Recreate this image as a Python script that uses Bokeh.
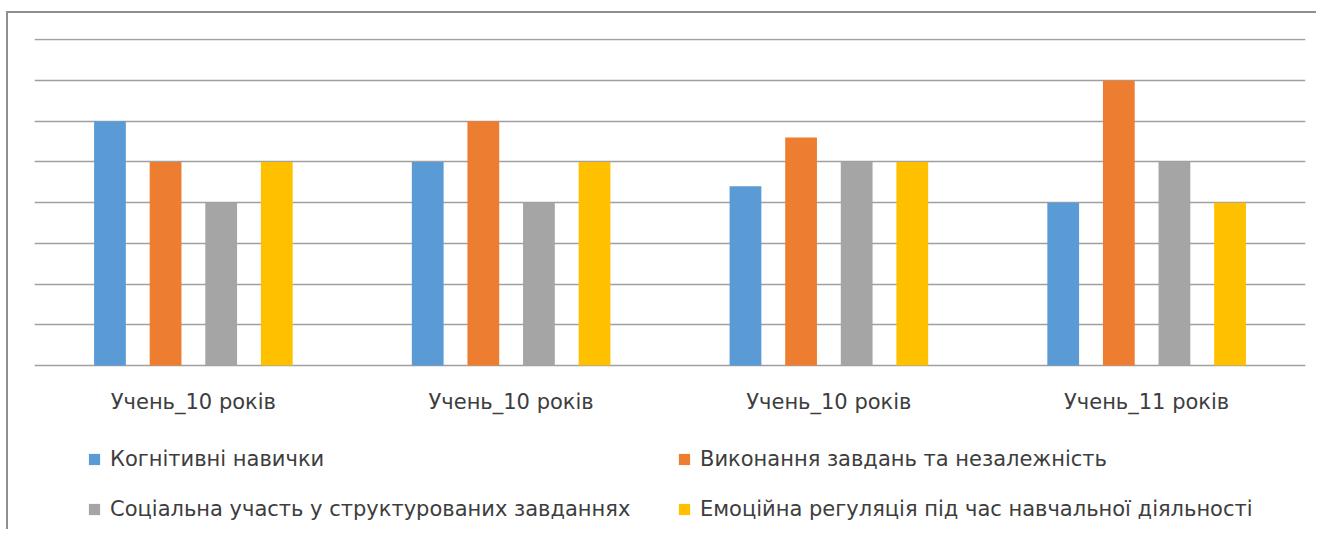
from bokeh.plotting import figure
from bokeh.models import (ColumnDataSource, Range1d, FixedTicker, Legend, LegendItem)
from bokeh.transform import dodge
from bokeh.embed import file_html
from bokeh.resources import INLINE

# ---- data ----
students = ["Учень_10 років", "Учень_10 років", "Учень_10 років", "Учень_11 років"]
series_names = [
    "Когнітивні навички",
    "Виконання завдань та незалежність",
    "Соціальна участь у структурованих завданнях",
    "Емоційна регуляція під час навчальної діяльності",
]
cognitive = [6, 5, 4.4, 4]
task_independence = [5, 6, 5.6, 7]
social = [4, 4, 5, 5]
emotional = [5, 5, 5, 4]
y_ticks = [0, 1, 2, 3, 4, 5, 6, 7, 8]

colors = ["#5B9BD5", "#ED7D31", "#A5A5A5", "#FFC000"]
offsets = [-0.2625, -0.0875, 0.0875, 0.2625]
FONT = "DejaVu Sans"
FSIZE = "21px"
TXT = "#3d3d3d"

xpos = [i + 0.5 for i in range(len(students))]
source = ColumnDataSource(dict(x=xpos, s0=cognitive, s1=task_independence, s2=social, s3=emotional))

p = figure(width=1310, height=518, output_backend="svg", toolbar_location=None,
           x_range=Range1d(0, 4), y_range=Range1d(-4.074, 8.03),
           min_border_left=26, min_border_right=13, min_border_top=25, min_border_bottom=0)
p.outline_line_color = None
p.styles = {"border-top": "2px solid #8f8f8f", "border-left": "2px solid #8f8f8f",
            "margin-top": "11px", "margin-left": "6px"}

renderers = []
for k, col in enumerate(["s0", "s1", "s2", "s3"]):
    r = p.vbar(x=dodge("x", offsets[k], range=p.x_range), top=col, width=0.1, bottom=0,
               source=source, fill_color=colors[k], line_color=None)
    renderers.append(r)

p.yaxis.visible = False
p.xgrid.visible = False
p.ygrid.ticker = FixedTicker(ticks=y_ticks)
p.ygrid.grid_line_color = "#a0a0a0"
p.ygrid.grid_line_width = 1.5

xa = p.xaxis[0]
xa.fixed_location = 0
xa.ticker = FixedTicker(ticks=xpos)
xa.major_label_overrides = {x: s for x, s in zip(xpos, students)}
xa.axis_line_color = None
xa.major_tick_line_color = None
xa.minor_tick_line_color = None
xa.major_tick_out = 0
xa.major_tick_in = 0
xa.major_label_standoff = 24
xa.major_label_text_font = FONT
xa.major_label_text_font_size = FSIZE
xa.major_label_text_color = TXT

def make_legend(idx, x):
    items = [LegendItem(label=series_names[i], renderers=[renderers[i]]) for i in idx]
    lg = Legend(items=items, location=(x, 10), orientation="vertical",
                glyph_width=14, glyph_height=14, label_standoff=9, padding=0, spacing=26,
                margin=0, label_height=20, border_line_color=None, background_fill_alpha=0,
                label_text_font=FONT, label_text_font_size=FSIZE, label_text_color=TXT)
    p.add_layout(lg, "center")

make_legend([0, 2], 53)
make_legend([1, 3], 643)

open("out.html", "w").write(file_html(p, INLINE))
